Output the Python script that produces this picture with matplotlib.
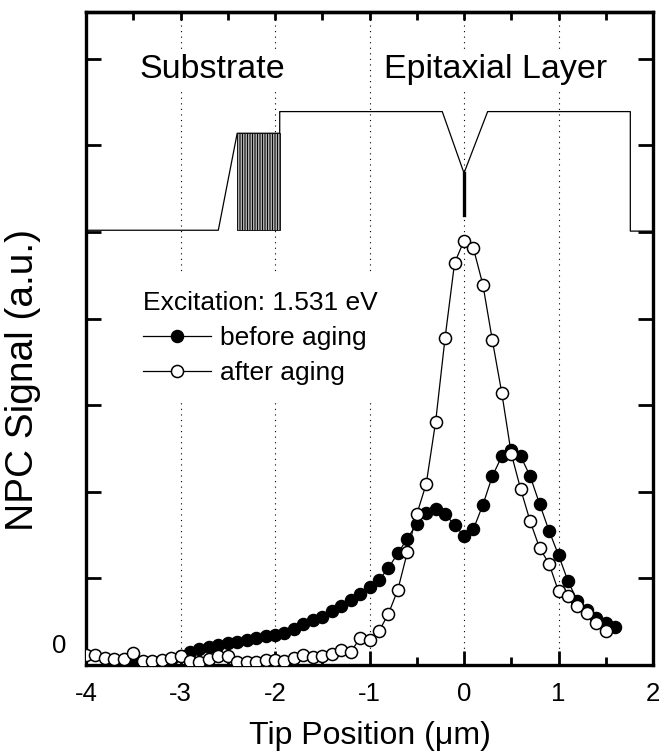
import matplotlib.pyplot as plt
from matplotlib.patches import Rectangle

plt.rcParams['font.family'] = ['Liberation Sans', 'DejaVu Sans']
plt.rcParams['hatch.linewidth'] = 0.7

# Tip position (um) and NPC signal (a.u.)
x_before = [-3.5, -3.4, -3.3, -3.2, -3.1, -3.0, -2.9, -2.8, -2.7, -2.6,
            -2.5, -2.4, -2.3, -2.2, -2.1, -2.0, -1.9, -1.8, -1.7, -1.6,
            -1.5, -1.4, -1.3, -1.2, -1.1, -1.0, -0.9, -0.8, -0.7, -0.6,
            -0.5, -0.4, -0.3, -0.2, -0.1, 0.0, 0.1, 0.2, 0.3, 0.4,
            0.5, 0.6, 0.7, 0.8, 0.9, 1.0, 1.1, 1.2, 1.3, 1.4, 1.5, 1.6]
y_before = [0.04, 0.04, 0.04, 0.05, 0.06, 0.10, 0.15, 0.19, 0.21, 0.23,
            0.25, 0.27, 0.29, 0.31, 0.33, 0.35, 0.37, 0.42, 0.47, 0.52,
            0.56, 0.62, 0.68, 0.75, 0.82, 0.90, 0.98, 1.12, 1.29, 1.46,
            1.63, 1.75, 1.80, 1.74, 1.62, 1.49, 1.57, 1.85, 2.18, 2.41,
            2.48, 2.41, 2.18, 1.86, 1.55, 1.27, 0.97, 0.74, 0.63, 0.54, 0.49, 0.44]

x_after = [-4.0, -3.9, -3.8, -3.7, -3.6, -3.5, -3.4, -3.3, -3.2, -3.1,
           -3.0, -2.9, -2.8, -2.7, -2.6, -2.5, -2.4, -2.3, -2.2, -2.1,
           -2.0, -1.9, -1.8, -1.7, -1.6, -1.5, -1.4, -1.3, -1.2, -1.1,
           -1.0, -0.9, -0.8, -0.7, -0.6, -0.5, -0.4, -0.3, -0.2, -0.1,
           0.0, 0.1, 0.2, 0.3, 0.4, 0.5, 0.6, 0.7, 0.8, 0.9,
           1.0, 1.1, 1.2, 1.3, 1.4, 1.5]
y_after = [0.12, 0.11, 0.08, 0.07, 0.07, 0.14, 0.05, 0.05, 0.06, 0.08,
           0.10, 0.05, 0.04, 0.07, 0.10, 0.10, 0.04, 0.04, 0.04, 0.06,
           0.06, 0.05, 0.08, 0.11, 0.09, 0.10, 0.13, 0.17, 0.15, 0.31,
           0.29, 0.39, 0.59, 0.87, 1.30, 1.74, 2.09, 2.81, 3.78, 4.64,
           4.90, 4.81, 4.39, 3.75, 3.14, 2.44, 2.03, 1.66, 1.35, 1.17,
           0.85, 0.80, 0.68, 0.60, 0.49, 0.39]

# sample cross-section sketch drawn above the curves
profile_x = [-4.0, -2.60, -2.40, -1.95, -1.95, -0.23, 0.0, 0.25, 1.76, 1.76, 2.0]
profile_y = [5.02, 5.02, 6.14, 6.14, 6.39, 6.39, 5.68, 6.39, 6.39, 5.01, 5.01]
block_x = [-2.40, -1.95]
block_y = [5.02, 6.14]
tip_x = [0.0, 0.0]
tip_y = [5.68, 5.20]

grid_x = [-3, -2, -1, 0, 1]

fig = plt.figure(figsize=(6.71, 7.53), dpi=100)
ax = fig.add_axes([86/671, 88/753, 567/671, 653/753])

for gx in grid_x:
    ax.axvline(gx, color='black', lw=0.8, ls=(0, (1, 4)), zorder=0)

ax.plot(profile_x, profile_y, color='black', lw=0.9, zorder=2)
ax.add_patch(Rectangle((block_x[0], block_y[0]), block_x[1] - block_x[0],
                       block_y[1] - block_y[0], facecolor='white',
                       edgecolor='black', hatch='||||||||||', lw=0.6, zorder=2))
ax.plot(tip_x, tip_y, color='black', lw=2.4, zorder=2)

ax.text(-2.66, 6.78, 'Substrate', fontsize=24.5, ha='center', va='baseline',
        bbox=dict(facecolor='white', edgecolor='none', pad=2), zorder=3)
ax.text(0.33, 6.78, 'Epitaxial Layer', fontsize=24.5, ha='center', va='baseline',
        bbox=dict(facecolor='white', edgecolor='none', pad=2), zorder=3)

ax.plot(x_before, y_before, color='black', lw=0.9, marker='o', ms=8.7,
        mfc='black', mec='black', mew=1.0, label='before aging', zorder=4)
ax.plot(x_after, y_after, color='black', lw=0.9, marker='o', ms=8.7,
        mfc='white', mec='black', mew=1.1, label='after aging', zorder=5)

leg = ax.legend(loc='upper left', bbox_to_anchor=(0.072, 0.597), borderaxespad=0,
                title='Excitation: 1.531 eV', title_fontsize=19, fontsize=19,
                frameon=True, fancybox=False, framealpha=1, edgecolor='none',
                facecolor='white', handlelength=2.6, handletextpad=0.33,
                labelspacing=0.42, borderpad=0.6, numpoints=1,
                alignment='left')
leg.set_zorder(6)

ax.set_xlim(-4, 2)
ax.set_ylim(0, 7.54)
ax.set_xticks([-4, -3, -2, -1, 0, 1, 2])
ax.set_xticks([-3.5, -2.5, -1.5, -0.5, 0.5, 1.5], minor=True)
ax.set_xticklabels(['-4', '-3', '-2', '-1', '0', '1', '2'])
ax.set_yticks([0.25])
ax.set_yticklabels(['0'])
ax.set_yticks([1, 2, 3, 4, 5, 6, 7], minor=True)

ax.tick_params(axis='x', which='major', direction='in', length=10, width=2,
               labelsize=18.5, pad=12)
ax.tick_params(axis='x', which='minor', direction='in', length=6, width=2)
ax.tick_params(axis='y', which='major', length=0, labelsize=18.5, pad=14)
ax.tick_params(axis='y', which='minor', direction='in', length=11, width=2,
               left=True, right=True)

top = ax.secondary_xaxis('top')
top.set_xticks([-3.5, -3, -2.5, -2, -1.5, -1, -0.5, 0, 0.5, 1, 1.5])
top.tick_params(direction='in', length=6, width=2, labeltop=False)

for sp in ax.spines.values():
    sp.set_linewidth(2.4)
top.spines['top'].set_linewidth(2.4)

ax.set_xlabel('Tip Position (\u03bcm)', fontsize=23, labelpad=11)
ax.set_ylabel('NPC Signal (a.u.)', fontsize=28)
ax.yaxis.set_label_coords(-0.08, 0.437)

fig.savefig('out.png', dpi=100)
